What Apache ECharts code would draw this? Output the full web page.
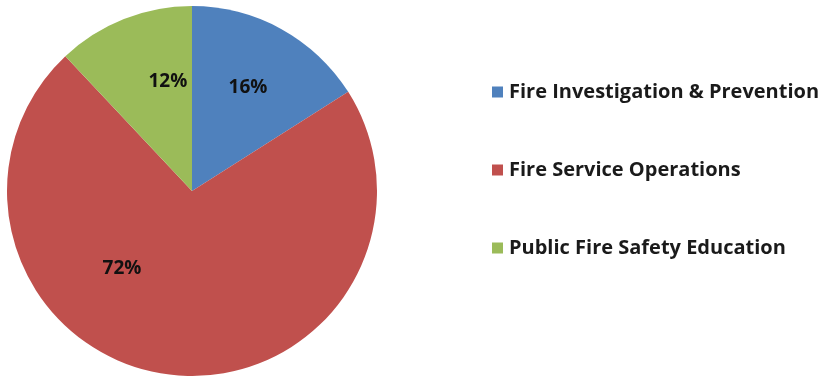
<!DOCTYPE html>
<html>
<head>
<meta charset="utf-8">
<script src="https://cdn.jsdelivr.net/npm/echarts@6/dist/echarts.min.js"></script>
<style>
  html, body { margin: 0; padding: 0; background: #ffffff; }
  #chart { width: 821px; height: 376px; }
</style>
</head>
<body>
<div id="chart"></div>
<script>
// Share of activity by program area (percent)
const categories = [
  'Fire Investigation & Prevention',
  'Fire Service Operations',
  'Public Fire Safety Education'
];
const shares = [16, 72, 12];
const colors = ['#4F81BD', '#C0504D', '#9BBB59'];
// Nudges that move each percentage label off the slice's mid-line
const labelOffsets = [[10, -20], [-58, -17], [11, -21]];

const FONT = '"Open Sans", Lato, sans-serif';

const chart = echarts.init(document.getElementById('chart'), null, { renderer: 'canvas' });

chart.setOption({
  animation: false,
  color: colors,
  legend: {
    orient: 'vertical',
    left: 492,
    top: 82,
    padding: 0,
    itemWidth: 11,
    itemHeight: 11,
    itemGap: 58,
    icon: 'rect',
    data: categories,
    textStyle: {
      fontFamily: FONT,
      fontWeight: 'bold',
      fontSize: 20,
      lineHeight: 20,
      color: '#1a1a1a',
      padding: [0, 0, 0, 1]
    }
  },
  series: [{
    type: 'pie',
    center: [192, 191],
    radius: 185,
    startAngle: 90,
    clockwise: true,
    avoidLabelOverlap: false,
    emphasis: { disabled: true },
    itemStyle: { borderWidth: 0 },
    label: {
      show: true,
      position: 'inside',
      formatter: '{c}%',
      fontFamily: FONT,
      fontWeight: 'bold',
      fontSize: 19,
      color: '#111111'
    },
    labelLine: { show: false },
    data: categories.map((name, i) => ({
      name: name,
      value: shares[i],
      label: { offset: labelOffsets[i] }
    }))
  }]
});
</script>
</body>
</html>
